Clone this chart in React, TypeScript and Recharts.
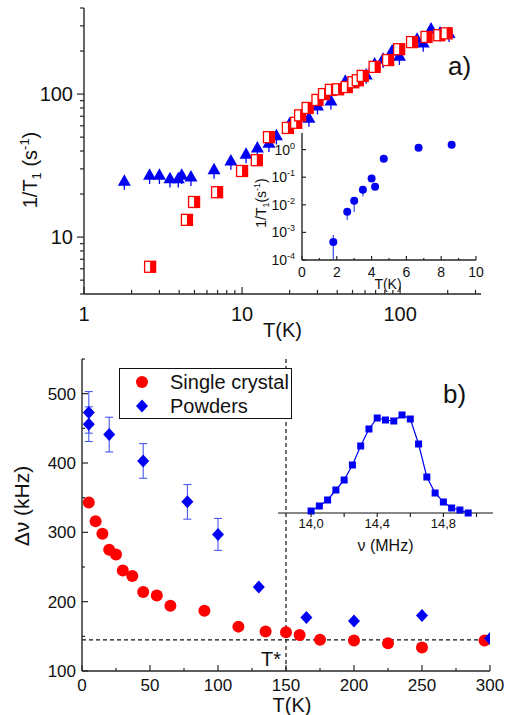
import React from 'react';
import {
  ScatterChart,
  LineChart,
  Scatter,
  Line,
  XAxis,
  YAxis,
  ErrorBar,
  ReferenceLine,
  Legend,
} from 'recharts';

const FONT = '"Liberation Sans", Arial, Helvetica, sans-serif';
const BLUE = '#0000f2';
const RED = '#ff0000';
const ERR = '#4a58ee';
const AX = '#262626';
const INK = '#111';

// panel a: 1/T1 vs T (log-log)
const triT = [1.8, 2.6, 3.0, 3.5, 3.95, 4.15, 4.75, 6.65, 8.5, 10.6, 12.5, 14.8, 16.5, 20, 26.5, 30, 36.5, 45, 61, 69, 78, 89, 99, 128, 140, 157, 179, 204];
const triR = [25, 27.5, 27.5, 26, 26, 27.5, 26.7, 30, 34.6, 38.5, 42.6, 46, 52, 63, 69, 84, 91, 125, 138, 165, 178, 203, 187, 246, 231, 290, 272, 270];
const triE = [3.6, 4, 4, 3.8, 3.8, 4, 3.9, 4.4, 5, 5.6, 6.2, 6.7, 7.5, 9, 10, 12, 13, 18, 20, 23.5, 25.5, 29, 27, 35, 33, 41, 39, 39];
const sqT = [2.62, 4.48, 4.97, 6.95, 10.0, 12.4, 14.8, 19.5, 22, 23.3, 26, 30, 33, 36.5, 40.5, 46, 50.6, 54, 58, 69, 84, 98.6, 119, 147, 177, 197];
const sqR = [6.2, 13.2, 17.6, 20.6, 29, 34.5, 50, 58, 63, 71, 80, 91, 100, 107, 108, 112, 121, 125, 134, 155, 173, 206, 231, 251, 258, 266];
const aXTicks = [1, 2, 3, 4, 5, 6, 7, 8, 9, 10, 20, 30, 40, 50, 60, 70, 80, 90, 100, 200, 300];
const aXMajor = [1, 10, 100];
const aYTicks = [4, 5, 6, 7, 8, 9, 10, 20, 30, 40, 50, 60, 70, 80, 90, 100, 200, 300, 400];
const aYMajor = [10, 100];

// inset of panel a
const inT = [1.8, 2.6, 3.0, 3.5, 4.0, 4.2, 4.7, 6.7, 8.6];
const inR = [4.5e-4, 5.6e-3, 0.014, 0.035, 0.089, 0.045, 0.47, 1.18, 1.5];
const inE = [[3.45e-4, 3.5e-4], [2.8e-3, 1.5e-3], [8.5e-3, 4e-3], [0.015, 0.008], [0, 0], [0, 0], [0, 0], [0, 0], [0, 0]];
const inXTicks = [0, 1, 2, 3, 4, 5, 6, 7, 8, 9, 10];
const inXMajor = [0, 2, 4, 6, 8, 10];
const inYTicks = [1e-4, 1e-3, 1e-2, 1e-1, 1];

// panel b: linewidth vs T
const scT = [5, 10, 15, 20, 25, 30, 37, 45, 55, 65, 90, 115, 135, 150, 160, 175, 200, 225, 250, 296];
const scW = [343, 316, 298, 275, 268, 245, 237, 214, 209, 194, 187, 164, 157, 156, 152, 145, 144, 140, 134, 144];
const pwT = [5, 5, 20, 45, 77.5, 100, 130, 165, 200, 250, 300];
const pwW = [473, 456, 441, 403, 344, 297, 221, 177, 172, 180, 147];
const pwE = [30, 25, 25, 25, 25, 23, 0, 0, 0, 0, 0];
const bXTicks = [0, 25, 50, 75, 100, 125, 150, 175, 200, 225, 250, 275, 300];
const bXMajor = [0, 50, 100, 150, 200, 250, 300];
const bYTicks = [100, 150, 200, 250, 300, 350, 400, 450, 500, 550];
const bYMajor = [100, 200, 300, 400, 500];
const legendOrder = ['Single crystal', 'Powders'];

// inset of panel b: spectrum
const nuF = [14.0, 14.05, 14.1, 14.15, 14.2, 14.25, 14.3, 14.35, 14.4, 14.45, 14.5, 14.55, 14.6, 14.65, 14.7, 14.75, 14.8, 14.85, 14.9, 14.95];
const nuA = [0.02, 0.07, 0.13, 0.23, 0.33, 0.48, 0.67, 0.84, 0.95, 0.93, 0.92, 0.98, 0.94, 0.69, 0.36, 0.2, 0.11, 0.05, 0.03, 0.0];
const nuTicks = [14.0, 14.2, 14.4, 14.6, 14.8, 15.0];
const nuMajor = [14.0, 14.4, 14.8];

const triData = triT.map((x, i) => ({ x, y: triR[i], e: [triE[i], 0] }));
const sqData = sqT.map((x, i) => ({ x, y: sqR[i] }));
const inData = inT.map((x, i) => ({ x, y: inR[i], e: inE[i] }));
const scData = scT.map((x, i) => ({ x, y: scW[i] }));
const pwData = pwT.map((x, i) => ({ x, y: pwW[i], e: pwE[i] }));
const nuData = nuF.map((f, i) => ({ f, a: nuA[i] }));

type Side = 'bottom' | 'left' | 'top' | 'right';
interface TickSpec {
  side: Side;
  major: number[];
  out?: boolean;
  big: number;
  small: number;
  fmt?: (v: number) => React.ReactNode;
  fs?: number;
  off?: number;
}

const isIn = (list: number[], v: number) =>
  list.some((m) => Math.abs(m - v) <= 1e-6 * Math.abs(m) + 1e-12);

function makeTick(s: TickSpec) {
  return (p: any) => {
    const { x, y } = p;
    const v: number = p.payload.value;
    const major = isIn(s.major, v);
    const len = major ? s.big : s.small;
    const d = s.out ? 1 : -1;
    const fs = s.fs ?? 18;
    const txt = major && s.fmt ? s.fmt(v) : null;
    let l: number[];
    if (s.side === 'bottom') l = [x, y, x, y + d * len];
    else if (s.side === 'top') l = [x, y, x, y - d * len];
    else if (s.side === 'left') l = [x, y, x - d * len, y];
    else l = [x, y, x + d * len, y];
    return (
      <g>
        <line x1={l[0]} y1={l[1]} x2={l[2]} y2={l[3]} stroke={AX} strokeWidth={1.2} />
        {txt != null && s.side === 'bottom' && (
          <text x={x} y={y + (s.off ?? 20)} textAnchor="middle" fontSize={fs} fontFamily={FONT} fill={INK}>
            {txt}
          </text>
        )}
        {txt != null && s.side === 'left' && (
          <text x={x - (s.off ?? 6)} y={y + fs * 0.36} textAnchor="end" fontSize={fs} fontFamily={FONT} fill={INK}>
            {txt}
          </text>
        )}
      </g>
    );
  };
}

const axisLine = { stroke: AX, strokeWidth: 1.4 };
const noTick = { tickSize: 0, tickMargin: 0, tickLine: false, interval: 0 as const };

const triShape = (p: any) => (
  <polygon
    points={`${p.cx},${p.cy - 6} ${p.cx - 6.5},${p.cy + 5.5} ${p.cx + 6.5},${p.cy + 5.5}`}
    fill={BLUE}
  />
);
const halfSq = (p: any) => (
  <g>
    <rect x={p.cx - 5.5} y={p.cy - 5.5} width={11} height={11} fill="#fff" stroke={RED} strokeWidth={1.3} />
    <rect x={p.cx} y={p.cy - 5.5} width={5.5} height={11} fill={RED} />
  </g>
);
const dotShape = (p: any) => <circle cx={p.cx} cy={p.cy} r={4} fill={BLUE} />;
const bigDot = (p: any) => <circle cx={p.cx} cy={p.cy} r={6} fill={RED} />;
const diamond = (p: any) => (
  <polygon
    points={`${p.cx},${p.cy - 6.5} ${p.cx + 6},${p.cy} ${p.cx},${p.cy + 6.5} ${p.cx - 6},${p.cy}`}
    fill={BLUE}
  />
);

const pow10 = (v: number) => (
  <>
    10<tspan dy={-6} fontSize={9}>{Math.round(Math.log10(v))}</tspan>
  </>
);
const comma = (v: number) => v.toFixed(1).replace('.', ',');

function PanelA() {
  return (
    <ScatterChart width={506} height={345} margin={{ top: 8, right: 25, bottom: 0, left: 0 }}>
      <XAxis
        xAxisId="b"
        dataKey="x"
        type="number"
        scale="log"
        domain={[1, 325]}
        allowDataOverflow
        ticks={aXTicks}
        height={51}
        {...noTick}
        axisLine={axisLine}
        tick={makeTick({ side: 'bottom', major: aXMajor, big: 7, small: 4, fmt: String, fs: 20, off: 27 })}
        label={{ value: 'T(K)', position: 'insideBottom', offset: 8, fontSize: 20, fill: INK }}
      />
      <XAxis
        xAxisId="t"
        dataKey="x"
        orientation="top"
        type="number"
        scale="log"
        domain={[1, 325]}
        allowDataOverflow
        ticks={aXTicks}
        height={0}
        {...noTick}
        axisLine={axisLine}
        tick={makeTick({ side: 'top', major: aXMajor, big: 7, small: 4 })}
      />
      <YAxis
        yAxisId="l"
        dataKey="y"
        type="number"
        scale="log"
        domain={[4, 400]}
        allowDataOverflow
        ticks={aYTicks}
        width={84}
        {...noTick}
        axisLine={axisLine}
        tick={makeTick({ side: 'left', out: true, major: aYMajor, big: 7, small: 4, fmt: String, fs: 20, off: 11 })}
      />
      <YAxis
        yAxisId="r"
        dataKey="y"
        orientation="right"
        type="number"
        scale="log"
        domain={[4, 400]}
        allowDataOverflow
        ticks={aYTicks}
        width={0}
        {...noTick}
        axisLine={axisLine}
        tick={makeTick({ side: 'right', major: aYMajor, big: 7, small: 4 })}
      />
      <Scatter xAxisId="b" yAxisId="l" data={triData} shape={triShape} isAnimationActive={false}>
        <ErrorBar dataKey="e" direction="y" width={0} stroke={BLUE} strokeWidth={1.3} />
      </Scatter>
      <Scatter xAxisId="b" yAxisId="l" data={sqData} shape={halfSq} isAnimationActive={false} />
      <Scatter xAxisId="t" yAxisId="r" data={[]} legendType="none" isAnimationActive={false} />
      <text x={448} y={75} fontSize={26} fontFamily={FONT} fill={INK}>a)</text>
      <text transform="translate(37,170) rotate(-90)" textAnchor="middle" fontSize={20} fontFamily={FONT} fill={INK}>
        1/T<tspan dy={4} fontSize={13}>1</tspan>
        <tspan dy={-4}> (s</tspan>
        <tspan dy={-8} fontSize={13}>-1</tspan>
        <tspan dy={8}>)</tspan>
      </text>
    </ScatterChart>
  );
}

function InsetA() {
  return (
    <ScatterChart width={245} height={175} margin={{ top: 8, right: 9, bottom: 0, left: 0 }}>
      <XAxis
        xAxisId="b"
        dataKey="x"
        type="number"
        domain={[0, 10]}
        allowDataOverflow
        ticks={inXTicks}
        height={40}
        {...noTick}
        axisLine={axisLine}
        tick={makeTick({ side: 'bottom', major: inXMajor, big: 4, small: 2, fmt: String, fs: 14, off: 17 })}
      />
      <XAxis
        xAxisId="t"
        dataKey="x"
        orientation="top"
        type="number"
        domain={[0, 10]}
        allowDataOverflow
        ticks={inXTicks}
        height={0}
        {...noTick}
        axisLine={axisLine}
        tick={makeTick({ side: 'top', major: inXMajor, big: 4, small: 2 })}
      />
      <YAxis
        yAxisId="l"
        dataKey="y"
        type="number"
        scale="log"
        domain={[1e-4, 4]}
        allowDataOverflow
        ticks={inYTicks}
        width={62}
        {...noTick}
        axisLine={axisLine}
        tick={makeTick({ side: 'left', major: inYTicks, big: 4, small: 2, fmt: pow10, fs: 14, off: 7 })}
      />
      <YAxis
        yAxisId="r"
        dataKey="y"
        orientation="right"
        type="number"
        scale="log"
        domain={[1e-4, 4]}
        allowDataOverflow
        ticks={inYTicks}
        width={0}
        {...noTick}
        axisLine={axisLine}
        tick={makeTick({ side: 'right', major: inYTicks, big: 4, small: 2 })}
      />
      <Scatter xAxisId="b" yAxisId="l" data={inData} shape={dotShape} isAnimationActive={false}>
        <ErrorBar dataKey="e" direction="y" width={0} stroke={ERR} strokeWidth={1.3} />
      </Scatter>
      <Scatter xAxisId="t" yAxisId="r" data={[]} legendType="none" isAnimationActive={false} />
      <text x={148} y={164} textAnchor="middle" fontSize={14} fontFamily={FONT} fill={INK}>T(K)</text>
      <text transform="translate(26,78) rotate(-90)" textAnchor="middle" fontSize={14} fontFamily={FONT} fill={INK}>
        1/T<tspan dy={3} fontSize={9}>1</tspan>
        <tspan dy={-3}>(s</tspan>
        <tspan dy={-6} fontSize={9}>-1</tspan>
        <tspan dy={6}>)</tspan>
      </text>
    </ScatterChart>
  );
}

function PanelB() {
  return (
    <ScatterChart width={506} height={380} margin={{ top: 24, right: 16, bottom: 0, left: 0 }}>
      <XAxis
        xAxisId="b"
        dataKey="x"
        type="number"
        domain={[0, 300]}
        allowDataOverflow
        ticks={bXTicks}
        height={44}
        {...noTick}
        axisLine={axisLine}
        tick={makeTick({ side: 'bottom', major: bXMajor, big: 6, small: 3, fmt: String, fs: 17, off: 20 })}
        label={{ value: 'T(K)', position: 'insideBottom', offset: 3, dx: 6, fontSize: 20, fill: INK }}
      />
      <XAxis
        xAxisId="t"
        dataKey="x"
        orientation="top"
        type="number"
        domain={[0, 300]}
        allowDataOverflow
        ticks={bXTicks}
        height={0}
        {...noTick}
        axisLine={axisLine}
        tick={makeTick({ side: 'top', major: bXMajor, big: 6, small: 3 })}
      />
      <YAxis
        yAxisId="l"
        dataKey="y"
        type="number"
        domain={[100, 550]}
        allowDataOverflow
        ticks={bYTicks}
        width={82}
        {...noTick}
        axisLine={axisLine}
        tick={makeTick({ side: 'left', major: bYMajor, big: 6, small: 3, fmt: String, fs: 17, off: 6 })}
      />
      <YAxis
        yAxisId="r"
        dataKey="y"
        orientation="right"
        type="number"
        domain={[100, 550]}
        allowDataOverflow
        ticks={bYTicks}
        width={0}
        {...noTick}
        axisLine={axisLine}
        tick={makeTick({ side: 'right', major: bYMajor, big: 6, small: 3 })}
      />
      <ReferenceLine xAxisId="b" yAxisId="l" y={145} stroke={INK} strokeWidth={1.2} strokeDasharray="4 3" />
      <ReferenceLine
        xAxisId="b"
        yAxisId="l"
        x={150}
        stroke={INK}
        strokeWidth={1.2}
        strokeDasharray="4 3"
        label={{ value: 'T*', position: 'insideBottomRight', offset: 5, fontSize: 20, fill: INK }}
      />
      <Scatter name="Single crystal" xAxisId="b" yAxisId="l" data={scData} shape={bigDot} isAnimationActive={false} />
      <Scatter name="Powders" xAxisId="b" yAxisId="l" data={pwData} shape={diamond} isAnimationActive={false}>
        <ErrorBar dataKey="e" direction="y" width={4} stroke={ERR} strokeWidth={1.1} />
      </Scatter>
      <Scatter xAxisId="t" yAxisId="r" data={[]} legendType="none" isAnimationActive={false} />
      <Legend
        layout="vertical"
        align="center"
        verticalAlign="middle"
        wrapperStyle={{ left: 119, top: 33, width: 173, height: 51 }}
        content={(p: any) => {
          const items = (p.payload || [])
            .filter((e: any) => legendOrder.includes(e.value))
            .sort((a: any, b: any) => legendOrder.indexOf(a.value) - legendOrder.indexOf(b.value));
          return (
            <div
              style={{
                position: 'relative',
                width: 173,
                height: 51,
                boxSizing: 'border-box',
                border: `1.3px solid ${INK}`,
                background: '#fff',
                fontFamily: FONT,
                fontSize: 20,
                color: INK,
              }}
            >
              {items.map((e: any, i: number) => (
                <div key={e.value} style={{ position: 'absolute', left: 0, top: 1 + 24 * i, height: 24, lineHeight: '24px' }}>
                  <svg width={46} height={24} style={{ position: 'absolute', left: 0, top: 0 }}>
                    {e.value === 'Powders' ? diamond({ cx: 22, cy: 12 }) : bigDot({ cx: 22, cy: 12 })}
                  </svg>
                  <span style={{ position: 'absolute', left: 50, top: 0, whiteSpace: 'nowrap' }}>{e.value}</span>
                </div>
              ))}
            </div>
          );
        }}
      />
      <text x={443} y={68} fontSize={26} fontFamily={FONT} fill={INK}>b)</text>
      <text transform="translate(29,171) rotate(-90)" textAnchor="middle" fontSize={21} fontFamily={FONT} fill={INK}>
        Δν (kHz)
      </text>
    </ScatterChart>
  );
}

function InsetB() {
  return (
    <LineChart width={236} height={160} data={nuData} margin={{ top: 8, right: 13, bottom: 0, left: 8 }}>
      <XAxis
        dataKey="f"
        type="number"
        domain={[13.8, 15.1]}
        allowDataOverflow
        ticks={nuTicks}
        height={52}
        {...noTick}
        axisLine={{ stroke: INK, strokeWidth: 1.2 }}
        tick={makeTick({ side: 'bottom', out: true, major: nuTicks, big: 4, small: 4, fmt: (v) => (isIn(nuMajor, v) ? comma(v) : ''), fs: 13, off: 15 })}
        label={{ value: 'ν (MHz)', position: 'insideBottom', offset: 14, fontSize: 16, fill: INK }}
      />
      <YAxis hide domain={[0, 1]} />
      <Line
        dataKey="a"
        type="linear"
        stroke={BLUE}
        strokeWidth={1.2}
        isAnimationActive={false}
        dot={(p: any) => <rect key={p.index} x={p.cx - 3.5} y={p.cy - 3.5} width={7} height={7} fill={BLUE} />}
      />
    </LineChart>
  );
}

export default function App() {
  return (
    <div style={{ position: 'absolute', left: 0, top: 0, width: 506, height: 715, background: '#fff', fontFamily: FONT }}>
      <div style={{ position: 'absolute', left: 0, top: 0 }}>
        <PanelA />
      </div>
      <div style={{ position: 'absolute', left: 240, top: 125 }}>
        <InsetA />
      </div>
      <div style={{ position: 'absolute', left: 0, top: 335 }}>
        <PanelB />
      </div>
      <div style={{ position: 'absolute', left: 270, top: 405 }}>
        <InsetB />
      </div>
    </div>
  );
}
